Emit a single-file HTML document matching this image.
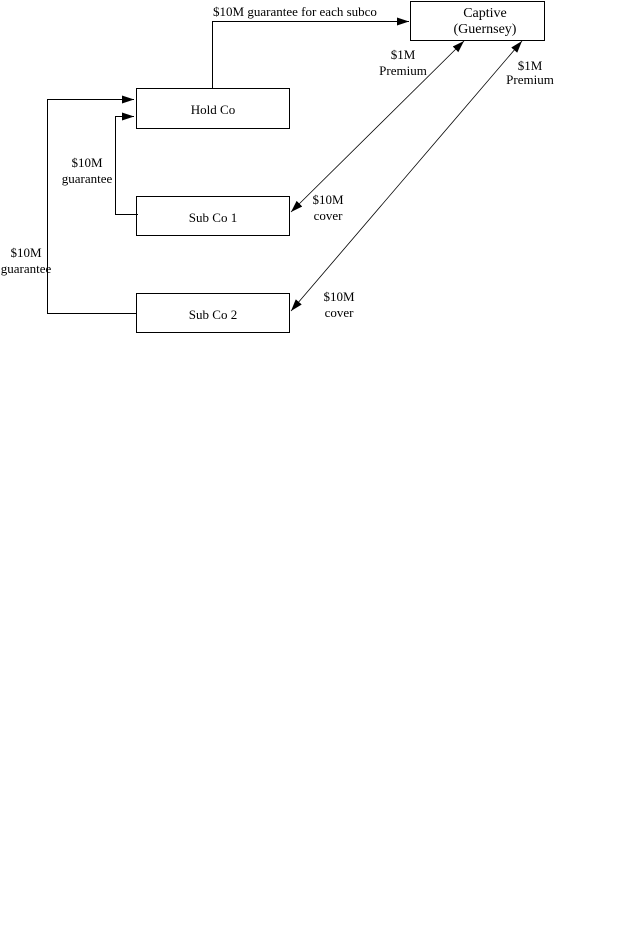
<!DOCTYPE html>
<html><head><meta charset="utf-8"><style>
body{margin:0;background:#fff;width:640px;height:943px;overflow:hidden}
svg{display:block}
text{font-family:"Liberation Serif",serif;font-size:13px;fill:#000}
</style></head><body>
<svg width="640" height="943" xmlns="http://www.w3.org/2000/svg">
<defs><marker id="a" markerWidth="12" markerHeight="8" refX="12" refY="4" orient="auto" markerUnits="userSpaceOnUse"><path d="M0,0 L12,4 L0,8 z" fill="#000"/></marker>
<marker id="b" markerWidth="12" markerHeight="8" refX="0" refY="4" orient="auto" markerUnits="userSpaceOnUse"><path d="M12,0 L0,4 L12,8 z" fill="#000"/></marker></defs>
<g fill="none" stroke="#000" stroke-width="1">
<rect x="136.5" y="88.5" width="153" height="40"/>
<rect x="136.5" y="196.5" width="153" height="39"/>
<rect x="136.5" y="293.5" width="153" height="39"/>
<rect x="410.5" y="1.5" width="134" height="39"/>
<polyline points="212.5,88 212.5,21.5 409,21.5" marker-end="url(#a)"/>
<polyline points="136,313.5 47.5,313.5 47.5,99.5 134,99.5" marker-end="url(#a)"/>
<polyline points="138,214.5 115.5,214.5 115.5,116.5 134,116.5" marker-end="url(#a)"/>
<line x1="291" y1="212" x2="464" y2="41" stroke-width="0.8" marker-start="url(#b)" marker-end="url(#a)"/>
<line x1="291" y1="311" x2="522" y2="41" stroke-width="0.8" marker-start="url(#b)" marker-end="url(#a)"/>
</g>
<text x="213" y="114" text-anchor="middle">Hold Co</text>
<text x="213" y="222" text-anchor="middle">Sub Co 1</text>
<text x="213" y="319" text-anchor="middle">Sub Co 2</text>
<text x="485" y="17" text-anchor="middle" style="font-size:14px">Captive</text>
<text x="485" y="33" text-anchor="middle" style="font-size:14px">(Guernsey)</text>
<text x="295" y="16" text-anchor="middle">$10M guarantee for each subco</text>
<text x="87" y="167" text-anchor="middle">$10M</text>
<text x="87" y="183" text-anchor="middle">guarantee</text>
<text x="26" y="257" text-anchor="middle">$10M</text>
<text x="26" y="273" text-anchor="middle">guarantee</text>
<text x="403" y="59" text-anchor="middle">$1M</text>
<text x="403" y="75" text-anchor="middle">Premium</text>
<text x="530" y="70" text-anchor="middle">$1M</text>
<text x="530" y="84" text-anchor="middle">Premium</text>
<text x="328" y="204" text-anchor="middle">$10M</text>
<text x="328" y="220" text-anchor="middle">cover</text>
<text x="339" y="301" text-anchor="middle">$10M</text>
<text x="339" y="317" text-anchor="middle">cover</text>
</svg>
</body></html>
